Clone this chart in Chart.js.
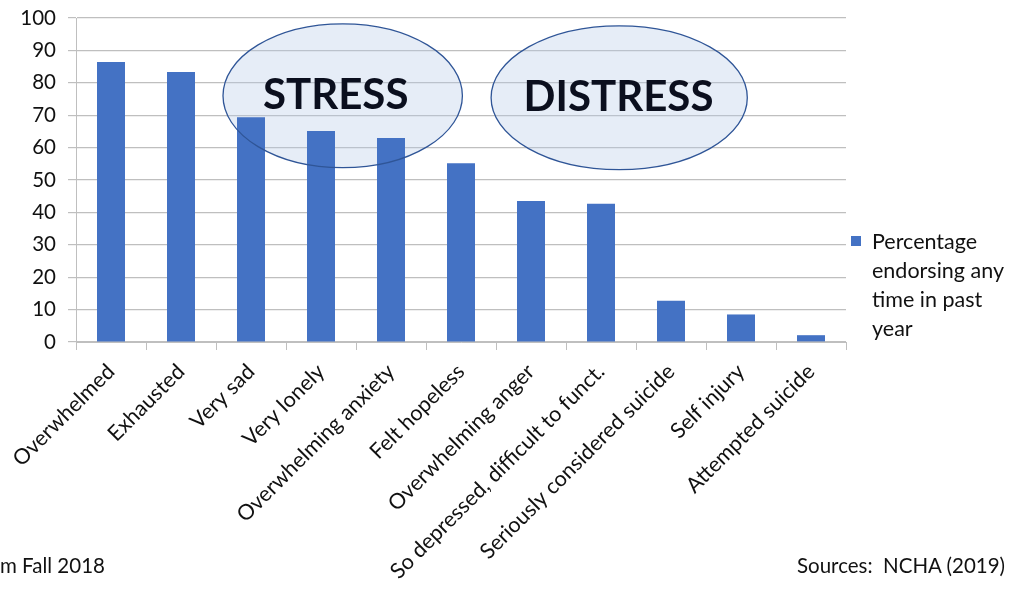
<!DOCTYPE html>
<html>
<head>
<meta charset="utf-8">
<script src="https://cdn.jsdelivr.net/npm/chart.js@4/dist/chart.umd.min.js"></script>
<style>
    html, body { margin: 0; padding: 0; background: #fff; overflow: hidden; }
    #wrap { position: relative; width: 1014px; height: 591px; }
    .note { position: absolute; font-family: Lato, sans-serif; font-size: 20.5px; color: #111; white-space: nowrap; }
</style>
</head>
<body>
<div id="wrap">
    <canvas id="stressChart" width="1014" height="591"></canvas>
    <div class="note" style="left:0; top:553px;">m Fall 2018</div>
    <div class="note" style="left:797px; top:553px;">Sources:&nbsp;&nbsp;NCHA (2019)</div>
</div>
<script>
// Категории и значения
const categories = [
    'Overwhelmed', 'Exhausted', 'Very sad', 'Very lonely', 'Overwhelming anxiety',
    'Felt hopeless', 'Overwhelming anger', 'So depressed, difficult to funct.',
    'Seriously considered suicide', 'Self injury', 'Attempted suicide'
];
const percentages = [86.4, 83.3, 69.4, 65.1, 63.0, 55.2, 43.5, 42.7, 12.7, 8.5, 2.1];
const yTicks = [0, 10, 20, 30, 40, 50, 60, 70, 80, 90, 100];
const seriesLabel = 'Percentage endorsing any time in past year';
const legendLines = ['Percentage', 'endorsing any', 'time in past', 'year'];

// Овалы-группы: центр (индекс категории, значение), радиусы в категориях и в процентах
const groupNames = ['STRESS', 'DISTRESS'];
const groupCenterX = [3.31, 7.26];
const groupCenterY = [76, 75.4];
const groupRadiusX = [1.71, 1.83];
const groupRadiusY = [22.2, 22.2];
const groupTextShift = [-0.1, -0.01];

const barColor = '#4472C4';
const gridColor = '#BFBFBF';
const font = 'Lato, sans-serif';

function groupGeometry(chart, i) {
    const x = chart.scales.x;
    const y = chart.scales.y;
    const step = x.getPixelForValue(1) - x.getPixelForValue(0);
    const unit = y.getPixelForValue(0) - y.getPixelForValue(1);
    return {
        cx: x.getPixelForValue(0) + groupCenterX[i] * step,
        cy: y.getPixelForValue(groupCenterY[i]),
        rx: groupRadiusX[i] * step,
        ry: groupRadiusY[i] * unit,
        shift: groupTextShift[i] * step
    };
}

// Заливка овалов под столбцами, контур и подписи поверх
const groupsPlugin = {
    id: 'groups',
    beforeDatasetsDraw(chart) {
        const ctx = chart.ctx;
        groupNames.forEach((name, i) => {
            const g = groupGeometry(chart, i);
            ctx.save();
            ctx.beginPath();
            ctx.ellipse(g.cx, g.cy, g.rx, g.ry, 0, 0, Math.PI * 2);
            ctx.fillStyle = 'rgba(180, 199, 231, 0.33)';
            ctx.fill();
            ctx.restore();
        });
    },
    afterDatasetsDraw(chart) {
        const ctx = chart.ctx;
        groupNames.forEach((name, i) => {
            const g = groupGeometry(chart, i);
            ctx.save();
            ctx.beginPath();
            ctx.ellipse(g.cx, g.cy, g.rx, g.ry, 0, 0, Math.PI * 2);
            ctx.lineWidth = 1.3;
            ctx.strokeStyle = '#2F5597';
            ctx.stroke();
            ctx.fillStyle = '#0B0F1E';
            ctx.font = 'bold 42px ' + font;
            ctx.textAlign = 'center';
            ctx.textBaseline = 'middle';
            ctx.fillText(name, g.cx + g.shift, g.cy);
            ctx.restore();
        });
    }
};

// Легенда справа в несколько строк
const sideLegendPlugin = {
    id: 'sideLegend',
    afterDraw(chart) {
        const ctx = chart.ctx;
        const area = chart.chartArea;
        const left = area.right + 5;
        const top = 236;
        ctx.save();
        ctx.fillStyle = chart.data.datasets[0].backgroundColor;
        ctx.fillRect(left, top, 10, 10);
        ctx.fillStyle = '#111';
        ctx.font = '21.5px ' + font;
        ctx.textAlign = 'left';
        ctx.textBaseline = 'middle';
        legendLines.forEach((line, i) => {
            ctx.fillText(line, left + 21, top + 6 + i * 29);
        });
        ctx.restore();
    }
};

const ctx = document.getElementById('stressChart').getContext('2d');
const chart = new Chart(ctx, {
    type: 'bar',
    data: {
        labels: categories,
        datasets: [{
            label: seriesLabel,
            data: percentages,
            backgroundColor: barColor,
            borderWidth: 0,
            categoryPercentage: 1,
            barPercentage: 0.4
        }]
    },
    options: {
        responsive: false,
        animation: false,
        layout: { padding: { left: 0, right: 168, top: 18, bottom: 0 } },
        plugins: {
            legend: { display: false },
            tooltip: { enabled: false }
        },
        scales: {
            x: {
                offset: true,
                grid: {
                    offset: true,
                    drawOnChartArea: false,
                    drawTicks: true,
                    tickLength: 8,
                    color: gridColor
                },
                border: { color: gridColor },
                ticks: {
                    autoSkip: false,
                    minRotation: 45,
                    maxRotation: 45,
                    color: '#111',
                    font: { family: font, size: 21.5 },
                    padding: 9
                },
                afterFit(scale) {
                    scale.height = 249;
                    scale.paddingLeft = 0;
                    scale.paddingRight = 0;
                }
            },
            y: {
                min: 0,
                max: 100,
                afterBuildTicks(scale) {
                    scale.ticks = yTicks.map(v => ({ value: v }));
                },
                grid: {
                    color: gridColor,
                    tickLength: 8,
                    lineWidth: 1.2
                },
                border: { color: gridColor },
                ticks: {
                    color: '#111',
                    font: { family: font, size: 20.5 },
                    padding: 12
                },
                afterFit(scale) {
                    scale.width = 76;
                    scale.paddingTop = 0;
                    scale.paddingBottom = 0;
                }
            }
        }
    },
    plugins: [groupsPlugin, sideLegendPlugin]
});
</script>
</body>
</html>
